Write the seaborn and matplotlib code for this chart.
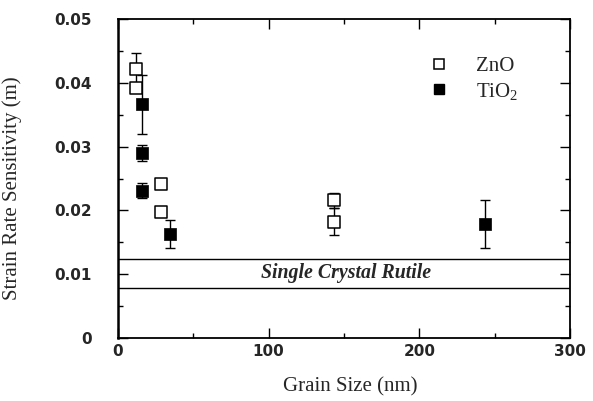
import matplotlib
matplotlib.use("Agg")
import matplotlib.pyplot as plt
import seaborn as sns
import pandas as pd
from matplotlib.lines import Line2D
from matplotlib.ticker import MultipleLocator, FuncFormatter

# Data
zno_x = [11.7, 11.7, 28.5, 28.5, 143.2, 143.2]
zno_y = [0.0422, 0.0392, 0.0241, 0.0197, 0.0216, 0.0182]
zno_err = [0.0025, 0.0, 0.0, 0.0, 0.0012, 0.0021]

tio2_x = [15.7, 15.7, 15.7, 34.4, 243.3]
tio2_y = [0.0366, 0.0290, 0.0231, 0.0163, 0.0179]
tio2_err = [0.0047, 0.0013, 0.0012, 0.0022, 0.0038]

rutile_low = 0.0079
rutile_high = 0.0124
rutile_label = "Single Crystal Rutile"

x_label = "Grain Size (nm)"
y_label = "Strain Rate Sensitivity (m)"
series_labels = ["ZnO", "TiO$_2$"]

sns.set_style("ticks")
plt.rcParams["font.family"] = ["Liberation Sans", "DejaVu Sans"]
plt.rcParams["mathtext.fontset"] = "custom"
plt.rcParams["mathtext.rm"] = "Liberation Serif"
plt.rcParams["mathtext.it"] = "Liberation Serif:italic"
plt.rcParams["mathtext.bf"] = "Liberation Serif:bold"

fig = plt.figure(figsize=(5.93, 4.01), dpi=100)
ax = fig.add_axes([118 / 593, (401 - 338) / 401, (570 - 118) / 593, (338 - 19) / 401])

df_z = pd.DataFrame({"x": zno_x, "y": zno_y, "e": zno_err})
df_t = pd.DataFrame({"x": tio2_x, "y": tio2_y, "e": tio2_err})

# error bars
for d in (df_z, df_t):
    m = d["e"] > 0
    ax.errorbar(d.loc[m, "x"], d.loc[m, "y"], yerr=d.loc[m, "e"], fmt="none",
                ecolor="black", elinewidth=1.0, capsize=3.5, capthick=1.0, zorder=2)

sns.scatterplot(data=df_z, x="x", y="y", marker="s", s=70, facecolor="white",
                edgecolor="black", linewidth=1.1, ax=ax, zorder=3)
sns.scatterplot(data=df_t, x="x", y="y", marker="s", s=75, color="black",
                edgecolor="black", linewidth=0.5, ax=ax, zorder=3)

ax.axhline(rutile_high, color="black", lw=1.0)
ax.axhline(rutile_low, color="black", lw=1.0)
ax.text(151.5, (rutile_low + rutile_high) / 2, rutile_label, ha="center", va="center",
        fontsize=14.3, fontstyle="italic", fontweight="bold", family="Liberation Serif")

ax.set_xlim(0, 300)
ax.set_ylim(0, 0.05)
ax.xaxis.set_major_locator(MultipleLocator(100))
ax.xaxis.set_minor_locator(MultipleLocator(50))
ax.yaxis.set_major_locator(MultipleLocator(0.01))
ax.yaxis.set_minor_locator(MultipleLocator(0.005))
ax.xaxis.set_major_formatter(FuncFormatter(lambda v, p: f"{v:.0f}"))
ax.yaxis.set_major_formatter(FuncFormatter(lambda v, p: "0" if abs(v) < 1e-9 else f"{v:.2f}"))

ax.tick_params(which="both", direction="in", top=True, right=True, width=1.0, color="black")
ax.tick_params(which="major", length=7)
ax.tick_params(which="minor", length=3.5)
ax.tick_params(axis="x", which="major", pad=4)
ax.tick_params(axis="y", which="major", pad=19)
for lab in ax.get_xticklabels() + ax.get_yticklabels():
    lab.set_fontweight("bold")
    lab.set_fontsize(11)
    lab.set_family("DejaVu Sans")

for s in ax.spines.values():
    s.set_linewidth(1.3)
    s.set_color("black")
ax.spines["left"].set_linewidth(1.8)

ax.set_xlabel(x_label, fontsize=15, family="Liberation Serif")
ax.set_ylabel(y_label, fontsize=15, family="Liberation Serif")
ax.xaxis.set_label_coords(0.513, -0.122)
ax.yaxis.set_label_coords(-0.212, 0.47)

handles = [
    Line2D([], [], marker="s", ls="none", markersize=6.5, markerfacecolor="white",
           markeredgecolor="black", markeredgewidth=1.1),
    Line2D([], [], marker="s", ls="none", markersize=6.5, markerfacecolor="black",
           markeredgecolor="black"),
]
ax.legend(handles, series_labels, loc="upper left", bbox_to_anchor=(0.645, 0.94),
          frameon=False, prop={"family": "Liberation Serif", "size": 15},
          handletextpad=1.3, labelspacing=0.2, handlelength=1.0)

fig.savefig("out.png", dpi=100)
